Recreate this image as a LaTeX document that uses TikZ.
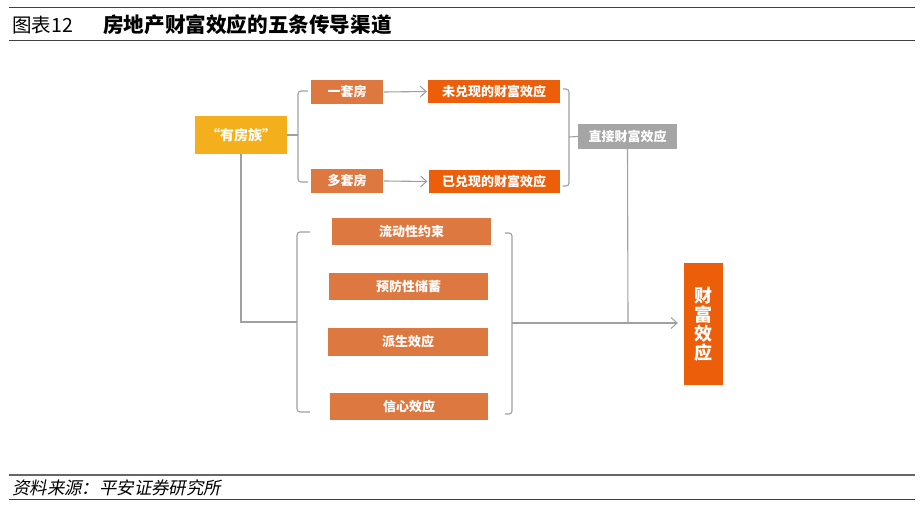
\documentclass[tikz,border=0pt]{standalone}
\usepackage{fontspec}
\setmainfont{Noto Sans CJK SC}
\newfontfamily\cjk{Noto Sans CJK SC}
\newfontfamily\cjkit{Noto Sans CJK SC}[FakeSlant=0.2]
\usetikzlibrary{arrows.meta,calc}
\definecolor{cyellow}{HTML}{F4B01C}
\definecolor{cbrown}{HTML}{DE7841}
\definecolor{cred}{HTML}{EC5E0A}
\definecolor{cgray}{HTML}{A5A5A5}
\definecolor{cline}{HTML}{A0A0A0}
\begin{document}
\begin{tikzpicture}[x=1pt,y=-1pt,
  box/.style={inner sep=0pt,text=white,font=\cjk\fontsize{13}{15}\selectfont\bfseries},
  ybox/.style={box,fill=cyellow,minimum width=92pt,minimum height=38pt,font=\cjk\fontsize{14}{16}\selectfont\bfseries},
  bbox/.style={box,fill=cbrown},
  rbox/.style={box,fill=cred},
  gbox/.style={box,fill=cgray},
  conn/.style={draw=cline,line width=1.1pt},
  brk/.style={conn,rounded corners=3pt},
  arr/.style={conn,-{Straight Barb[length=6pt,width=11pt,line width=1pt]}},
  rule/.style={draw=black!75,line width=1pt}
]
\useasboundingbox (0,0) rectangle (923,508);
\fill[white] (0,0) rectangle (923,508);
% title area
\draw[rule] (9,8) -- (915,8);
\draw[rule,line width=0.9pt] (9,40) -- (915,40);
\node[anchor=west,inner sep=0pt,font=\cjk\fontsize{19.5}{21}\selectfont] (fig) at (12,25) {图表12};
\node[anchor=west,inner sep=0pt,font=\cjk\fontsize{20.6}{22}\selectfont\bfseries] (title) at (103,25) {房地产财富效应的五条传导渠道};
% footer
\draw[draw=black!60,line width=1.6pt] (9,475) -- (915,475);
\draw[rule,line width=0.9pt] (9,499) -- (915,499);
\node[anchor=west,inner sep=0pt,font=\cjkit\fontsize{17.4}{19}\selectfont] (src) at (12,487.5) {资料来源：平安证券研究所};
% nodes
\node[ybox] (own) at (241,135) {“有房族”};
\node[bbox,minimum width=72pt,minimum height=24pt] (one) at (347,92) {一套房};
\node[rbox,minimum width=132pt,minimum height=23pt] (unr) at (494,91.5) {未兑现的财富效应};
\node[bbox,minimum width=72pt,minimum height=24pt] (multi) at (347,181) {多套房};
\node[rbox,minimum width=131pt,minimum height=23pt] (rea) at (494,181.5) {已兑现的财富效应};
\node[gbox,minimum width=99pt,minimum height=25pt] (direct) at (627.5,136.5) {直接财富效应};
\node[bbox,minimum width=159pt,minimum height=27pt] (liq) at (411.5,231.5) {流动性约束};
\node[bbox,minimum width=159pt,minimum height=27pt] (prec) at (408.5,286.5) {预防性储蓄};
\node[bbox,minimum width=160pt,minimum height=28pt] (deriv) at (408,342) {派生效应};
\node[bbox,minimum width=158pt,minimum height=27pt] (conf) at (409,406.5) {信心效应};
\node[rbox,minimum width=39pt,minimum height=122pt,align=center,font=\cjk\fontsize{18}{19}\selectfont\bfseries] (wealth) at (703.5,324) {财\\富\\效\\应};
% coordinates
\coordinate (b1) at (298,135);
\coordinate (b2) at (569,137);
\coordinate (j1) at (241,322);
\coordinate (b3) at (297,322);
\coordinate (b4) at (512,323);
\coordinate (j2) at (628,323);
% connectors
\draw[arr] ($(one.east)+(1,0)$) -- ($(unr.west)+(-1,0)$);
\draw[arr] ($(multi.east)+(1,0)$) -- ($(rea.west)+(-1,0)$);
\draw[conn] (own.east) -- (b1);
\draw[brk] ($(one.west)+(-3,-1)$) -| (b1) |- ($(multi.west)+(-3,1)$);
\draw[brk] ($(unr.east)+(3,-2.5)$) -| (b2) |- ($(rea.east)+(3,4.5)$);
\draw[conn] (b2) -- (direct.west);
\draw[conn] (own.south) -- (j1) -- (b3);
\draw[brk] ($(liq.west)+(-22,0.5)$) -| (b3) |- ($(conf.west)+(-20,5.5)$);
\draw[brk] ($(liq.east)+(14,1.5)$) -| (b4) |- ($(conf.east)+(17,7.5)$);
\draw[conn] (direct.south) -- (j2);
\draw[arr] (b4) -- ($(wealth.west)+(-6,-1)$);
\end{tikzpicture}
\end{document}
